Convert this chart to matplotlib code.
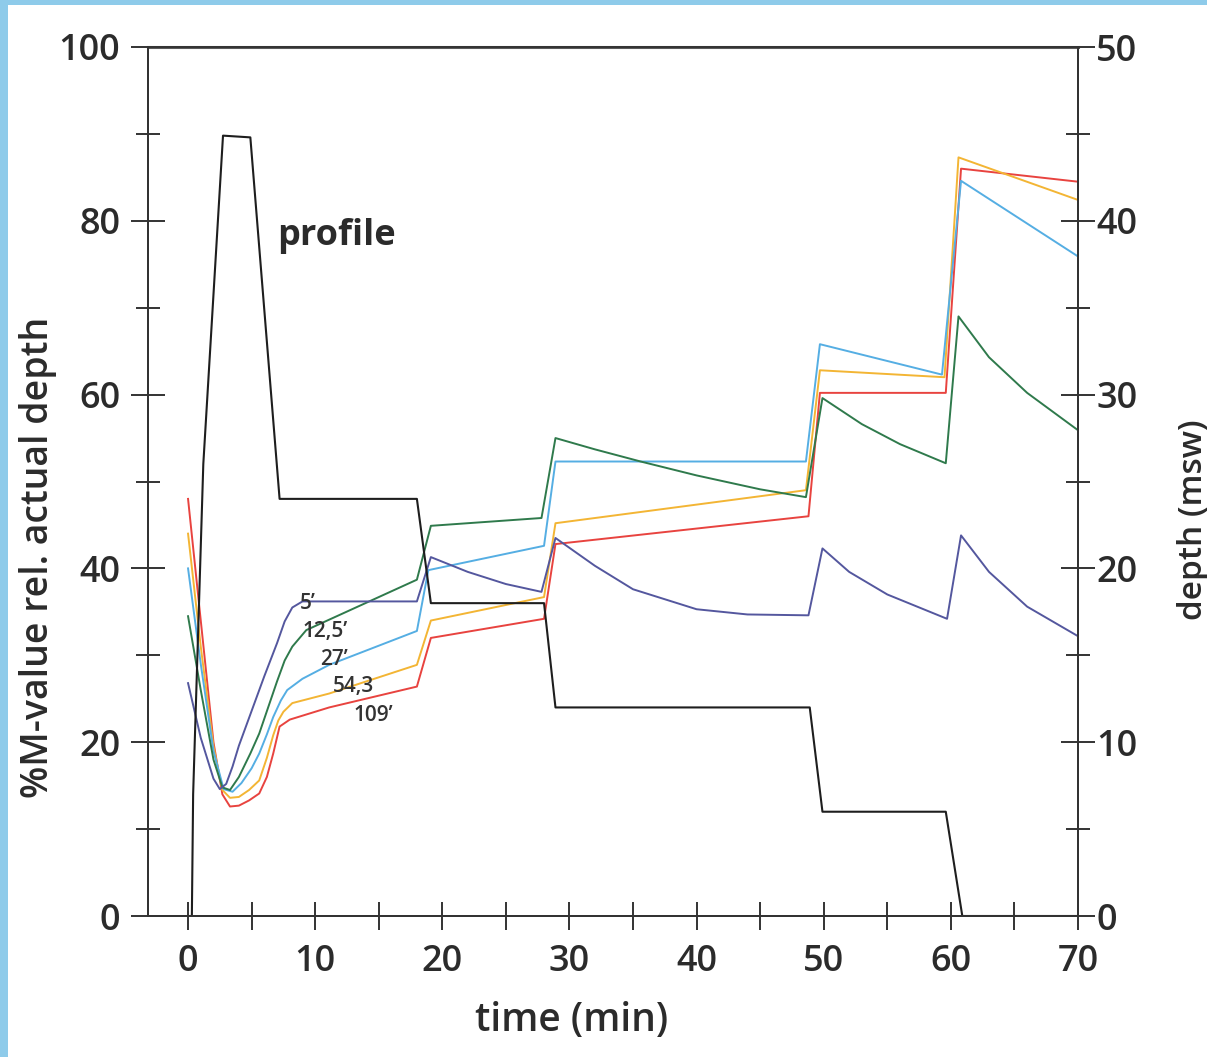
import numpy as np
import matplotlib; matplotlib.use("Agg")
import matplotlib.pyplot as plt
from matplotlib.patches import Rectangle
from matplotlib.ticker import MultipleLocator

plt.rcParams['font.family'] = ['Open Sans', 'DejaVu Sans']
plt.rcParams['font.weight'] = 'semibold'

# dive profile (right axis, depth in msw)
PROF_T = [0.0, 0.3, 0.4, 1.2, 2.75, 4.9, 7.2, 18.0, 19.1, 28.0, 28.9, 48.9, 49.9, 59.6, 60.9, 70.0]
PROF_D = [0.0, 0.0, 7.0, 26.0, 44.9, 44.8, 24.0, 24.0, 18.0, 18.0, 12.0, 12.0, 6.0, 6.0, 0.0, 0.0]

# %M-value per compartment (left axis)
T5 = [0, 1.0, 2.0, 2.5, 3.0, 3.5, 4.0, 5.0, 6.0, 7.0, 7.6, 8.2, 9.0, 18.0, 19.1, 22, 25, 27.8, 28.9,
      32, 35, 40, 44, 48.8, 49.9, 52, 55, 59.7, 60.8, 63, 66, 70]
V5 = [26.8, 20.5, 15.8, 14.6, 15.2, 17.2, 19.6, 23.6, 27.6, 31.4, 33.9, 35.5, 36.2, 36.2, 41.3, 39.6, 38.2, 37.3, 43.5,
      40.3, 37.6, 35.3, 34.7, 34.6, 42.3, 39.6, 37.0, 34.2, 43.8, 39.6, 35.6, 32.2]

T12 = [0, 1.0, 2.0, 2.7, 3.3, 4.0, 4.9, 5.6, 6.3, 7.0, 7.6, 8.2, 9.3, 18.0, 19.1, 27.8, 28.9,
       32, 35.6, 40, 45, 48.6, 49.9, 53, 56, 59.6, 60.6, 63, 66, 70]
V12 = [34.5, 26.0, 18.0, 14.8, 14.5, 16.0, 18.7, 21.0, 24.0, 27.0, 29.4, 31.0, 32.9, 38.7, 44.9, 45.8, 55.0,
       53.7, 52.3, 50.7, 49.1, 48.2, 59.6, 56.6, 54.3, 52.1, 69.0, 64.3, 60.2, 55.9]

T27 = [0, 1.0, 2.0, 2.8, 3.5, 4.2, 5.0, 5.6, 6.2, 6.7, 7.3, 7.8, 9.0, 11.1, 18.0, 18.9, 28.0, 28.9,
       48.6, 49.7, 59.3, 60.8, 70]
V27 = [40.0, 29.0, 19.0, 14.6, 14.3, 15.3, 17.0, 18.7, 20.9, 22.9, 24.8, 26.0, 27.3, 28.9, 32.8, 39.8, 42.6, 52.3,
       52.3, 65.8, 62.3, 84.6, 75.9]

T54 = [0, 1.0, 2.0, 2.7, 3.3, 4.0, 4.8, 5.6, 6.2, 6.7, 7.1, 7.5, 8.2, 11.1, 18.0, 19.1, 28.0, 28.9,
       48.6, 49.7, 59.5, 60.6, 70]
V54 = [44.0, 31.0, 19.5, 14.5, 13.6, 13.7, 14.5, 15.6, 18.2, 20.8, 22.5, 23.5, 24.5, 25.6, 28.9, 34.0, 36.7, 45.2,
       49.0, 62.8, 62.0, 87.3, 82.4]

T109 = [0, 1.0, 2.0, 2.7, 3.3, 4.0, 4.8, 5.6, 6.2, 6.7, 7.2, 8.0, 11.1, 18.0, 19.1, 28.0, 28.9,
        48.8, 49.7, 59.6, 60.8, 70]
V109 = [48.0, 34.0, 20.0, 14.0, 12.6, 12.7, 13.3, 14.1, 16.0, 18.7, 21.8, 22.6, 24.0, 26.4, 32.0, 34.2, 42.8,
        46.0, 60.2, 60.2, 86.0, 84.5]

LABELS = ["5’", "12,5’", "27’", "54,3", "109’"]
LABEL_POS = [(8.8, 36.0), (9.0, 32.7), (10.4, 29.5), (11.4, 26.4), (13.0, 23.1)]

TXT = "#2b2b2b"
fig = plt.figure(figsize=(12.07, 10.57), dpi=100)
fig.patch.set_facecolor("#8ecbea")
fig.add_artist(Rectangle((8 / 1207, 0), 1, 1 - 5 / 1057, transform=fig.transFigure,
                         facecolor="white", edgecolor="none", zorder=-10))

ax = fig.add_axes([148 / 1207, 1 - 916 / 1057, 930 / 1207, 869 / 1057])
ax.set_facecolor("none")
ax2 = ax.twinx()

lw = 1.4
ax.plot(T109, V109, color="#e8433f", lw=lw)
ax.plot(T54, V54, color="#f3b534", lw=lw)
ax.plot(T27, V27, color="#55aee3", lw=lw)
ax.plot(T12, V12, color="#2f7a4c", lw=lw)
ax.plot(T5, V5, color="#54579e", lw=lw)
ax2.plot(PROF_T, PROF_D, color="#1e1e1e", lw=1.5)

for s, (x, y) in zip(LABELS, LABEL_POS):
    ax.text(x, y, s, fontsize=15, fontweight="semibold", color="#333333", va="center", ha="left")
ax.text(7.0, 78.3, "profile", fontsize=26, fontweight="bold", color=TXT, va="center")

ax.set_xlim(-3.15, 70)
ax.set_ylim(0, 100)
ax2.set_ylim(0, 50)

ax.xaxis.set_major_locator(MultipleLocator(10))
ax.xaxis.set_minor_locator(MultipleLocator(5))
ax.yaxis.set_major_locator(MultipleLocator(20))
ax.yaxis.set_minor_locator(MultipleLocator(10))
ax2.yaxis.set_major_locator(MultipleLocator(10))
ax2.yaxis.set_minor_locator(MultipleLocator(5))

ax.tick_params(axis="x", which="both", direction="inout", length=20, width=1.4, color="#333333",
               labelsize=26, labelcolor=TXT, pad=10)
ax.tick_params(axis="y", which="major", direction="inout", length=24, width=1.4, color="#333333",
               labelsize=26, labelcolor=TXT, pad=8)
ax.tick_params(axis="y", which="minor", direction="inout", length=17, width=1.4, color="#333333")
ax2.tick_params(axis="y", which="major", direction="inout", length=24, width=1.4, color="#333333",
                labelsize=26, labelcolor=TXT, pad=1)
ax2.tick_params(axis="y", which="minor", direction="inout", length=17, width=1.4, color="#333333")
ax.set_xticks([0, 10, 20, 30, 40, 50, 60, 70])

for a in (ax, ax2):
    for sp in a.spines.values():
        sp.set_color("#333333")
        sp.set_linewidth(1.4)
ax.spines["top"].set_color("#5a5a5a")
ax.spines["top"].set_linewidth(2.2)

ax.set_xlabel("time (min)", fontsize=28, color=TXT, fontweight="semibold")
ax.xaxis.set_label_coords(0.455, -0.098)
ax.set_ylabel("%M-value rel. actual depth", fontsize=27, color=TXT, fontweight="semibold")
ax.yaxis.set_label_coords(-0.098, 0.413)
ax2.set_ylabel("depth (msw)", fontsize=24, color=TXT, rotation=90, fontweight="semibold")
ax2.yaxis.set_label_coords(1.106, 0.456)

fig.savefig("out.png", dpi=100)
